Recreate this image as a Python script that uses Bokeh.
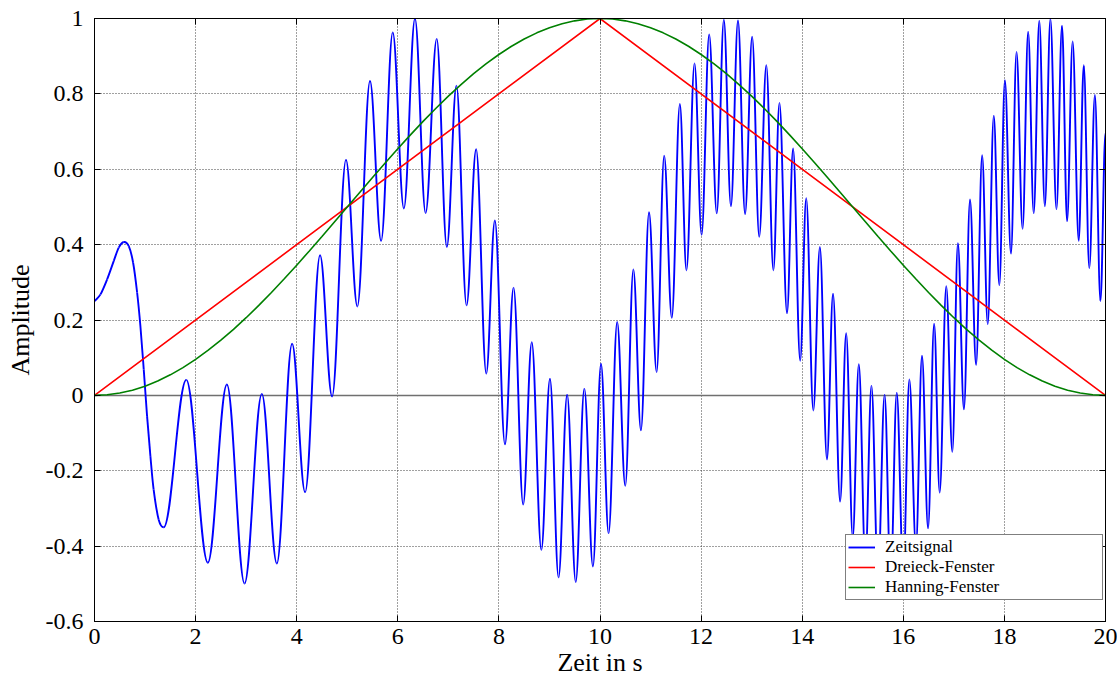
from bokeh.plotting import figure
from bokeh.models import (Range1d, FixedTicker, LinearAxis, Span, Legend,
                          LegendItem, CustomJSTickFormatter)
from bokeh.embed import file_html
from bokeh.resources import INLINE

# ---------------- data ----------------
x_ticks = [0, 2, 4, 6, 8, 10, 12, 14, 16, 18, 20]
y_ticks = [-0.6, -0.4, -0.2, 0.0, 0.2, 0.4, 0.6, 0.8, 1.0]
y_tick_labels = ["-0.6", "-0.4", "-0.2", "0", "0.2", "0.4", "0.6", "0.8", "1"]

# Dreieck-Fenster (triangle window)
dreieck_t = [0, 10, 20]
dreieck_v = [0.0, 1.0, 0.0]

# Hanning-Fenster, read every 0.25 s
hanning_t = [0, 0.25, 0.5, 0.75, 1, 1.25, 1.5, 1.75, 2, 2.25, 2.5, 2.75, 3,
             3.25, 3.5, 3.75, 4, 4.25, 4.5, 4.75, 5, 5.25, 5.5, 5.75, 6, 6.25,
             6.5, 6.75, 7, 7.25, 7.5, 7.75, 8, 8.25, 8.5, 8.75, 9, 9.25, 9.5,
             9.75, 10, 10.25, 10.5, 10.75, 11, 11.25, 11.5, 11.75, 12, 12.25,
             12.5, 12.75, 13, 13.25, 13.5, 13.75, 14, 14.25, 14.5, 14.75, 15,
             15.25, 15.5, 15.75, 16, 16.25, 16.5, 16.75, 17, 17.25, 17.5, 17.75,
             18, 18.25, 18.5, 18.75, 19, 19.25, 19.5, 19.75, 20]
hanning_v = [0.0, 0.0015, 0.0062, 0.0138, 0.0245, 0.0381, 0.0545, 0.0737,
             0.0955, 0.1198, 0.1464, 0.1753, 0.2061, 0.2388, 0.2730, 0.3087,
             0.3455, 0.3833, 0.4218, 0.4608, 0.5, 0.5392, 0.5782, 0.6167,
             0.6545, 0.6913, 0.7270, 0.7612, 0.7939, 0.8247, 0.8536, 0.8802,
             0.9045, 0.9263, 0.9455, 0.9619, 0.9755, 0.9862, 0.9938, 0.9985,
             1.0, 0.9985, 0.9938, 0.9862, 0.9755, 0.9619, 0.9455, 0.9263,
             0.9045, 0.8802, 0.8536, 0.8247, 0.7939, 0.7612, 0.7270, 0.6913,
             0.6545, 0.6167, 0.5782, 0.5392, 0.5, 0.4608, 0.4218, 0.3833,
             0.3455, 0.3087, 0.2730, 0.2388, 0.2061, 0.1753, 0.1464, 0.1198,
             0.0955, 0.0737, 0.0545, 0.0381, 0.0245, 0.0138, 0.0062, 0.0015,
             0.0]

# Zeitsignal, slow start read point by point
signal_start_t = [0.0, 0.118, 0.25, 0.382, 0.48, 0.579, 0.678, 0.764, 0.843,
                  0.908, 0.974, 1.04, 1.106, 1.17, 1.27, 1.369]
signal_start_v = [0.25, 0.268, 0.308, 0.357, 0.392, 0.407, 0.396, 0.352, 0.273,
                  0.184, 0.069, -0.055, -0.161, -0.25, -0.33, -0.35]

# Zeitsignal, successive peaks and troughs (time, value)
signal_ext_t = [1.369, 1.816, 2.242, 2.619, 2.968, 3.31, 3.607, 3.909, 4.166,
                4.462, 4.70, 4.975, 5.20, 5.45, 5.67, 5.90, 6.12, 6.34, 6.55,
                6.77, 6.97, 7.16, 7.36, 7.55, 7.75, 7.92, 8.12, 8.29, 8.48,
                8.65, 8.84, 9.01, 9.18, 9.35, 9.52, 9.69, 9.86, 10.02, 10.17,
                10.34, 10.50, 10.66, 10.81, 10.97, 11.12, 11.27, 11.42, 11.58,
                11.71, 11.87, 12.01, 12.16, 12.31, 12.45, 12.59, 12.73, 12.87,
                13.01, 13.15, 13.29, 13.43, 13.55, 13.70, 13.82, 13.96, 14.08,
                14.22, 14.35, 14.49, 14.61, 14.75, 14.87, 15.00, 15.12, 15.25,
                15.37, 15.50, 15.63, 15.75, 15.87, 16.00, 16.12, 16.25, 16.37,
                16.49, 16.61, 16.72, 16.85, 16.97, 17.08, 17.20, 17.32, 17.44,
                17.56, 17.67, 17.79, 17.90, 18.01, 18.13, 18.24, 18.36, 18.47,
                18.58, 18.69, 18.80, 18.91, 19.03, 19.14, 19.24, 19.35, 19.47,
                19.57, 19.68, 19.79, 19.90, 20.00]
signal_ext_v = [-0.35, 0.041, -0.444, 0.029, -0.499, 0.004, -0.446, 0.137,
                -0.257, 0.372, -0.003, 0.625, 0.236, 0.834, 0.41, 0.963, 0.496,
                1.0, 0.484, 0.946, 0.394, 0.822, 0.239, 0.653, 0.058, 0.464,
                -0.13, 0.286, -0.29, 0.141, -0.41, 0.044, -0.483, 0.002,
                -0.495, 0.018, -0.454, 0.084, -0.366, 0.195, -0.24, 0.334,
                -0.093, 0.486, 0.062, 0.636, 0.206, 0.773, 0.332, 0.881, 0.426,
                0.958, 0.483, 0.997, 0.502, 0.995, 0.481, 0.952, 0.421, 0.876,
                0.332, 0.776, 0.218, 0.655, 0.092, 0.523, -0.04, 0.394, -0.17,
                0.27, -0.282, 0.165, -0.377, 0.083, -0.44, 0.026, -0.48, 0.002,
                -0.49, 0.007, -0.47, 0.042, -0.40, 0.105, -0.353, 0.19, -0.258,
                0.29, -0.15, 0.404, -0.037, 0.52, 0.081, 0.637, 0.189, 0.742,
                0.292, 0.836, 0.376, 0.911, 0.442, 0.965, 0.483, 0.994, 0.502,
                0.999, 0.494, 0.981, 0.462, 0.939, 0.41, 0.876, 0.337, 0.797,
                0.25, 0.697]

# ---------------- smooth drawing helpers (bezier control points) ----------------
def smooth_through(ts, vs):
    """Cubic segments through read points (Catmull-Rom tangents); last point is a trough."""
    n = len(ts)
    tan = []
    for i in range(n):
        if i == 0:
            tan.append((ts[1] - ts[0], vs[1] - vs[0]))
        elif i == n - 1:
            tan.append((ts[i] - ts[i - 1], 0.0))
        else:
            tan.append(((ts[i + 1] - ts[i - 1]) / 2, (vs[i + 1] - vs[i - 1]) / 2))
    segs = {"x0": [], "y0": [], "x1": [], "y1": [], "cx0": [], "cy0": [], "cx1": [], "cy1": []}
    for i in range(n - 1):
        segs["x0"].append(ts[i]); segs["y0"].append(vs[i])
        segs["x1"].append(ts[i + 1]); segs["y1"].append(vs[i + 1])
        segs["cx0"].append(ts[i] + tan[i][0] / 3); segs["cy0"].append(vs[i] + tan[i][1] / 3)
        segs["cx1"].append(ts[i + 1] - tan[i + 1][0] / 3); segs["cy1"].append(vs[i + 1] - tan[i + 1][1] / 3)
    return segs


def smooth_extrema(ts, vs, k=0.3634):
    """Half-wave cubic segments between successive peaks and troughs."""
    segs = {"x0": ts[:-1], "y0": vs[:-1], "x1": ts[1:], "y1": vs[1:],
            "cx0": [a + k * (b - a) for a, b in zip(ts[:-1], ts[1:])], "cy0": vs[:-1],
            "cx1": [b - k * (b - a) for a, b in zip(ts[:-1], ts[1:])], "cy1": vs[1:]}
    return segs


s1 = smooth_through(signal_start_t, signal_start_v)
s2 = smooth_extrema(signal_ext_t, signal_ext_v)
segs = {key: list(s1[key]) + list(s2[key]) for key in s1}

# ---------------- styling ----------------
SERIF = "Liberation Serif"
BLUE, RED, GREEN = "#0000ff", "#ff0000", "#008000"

p = figure(width=1117, height=681, output_backend="svg", toolbar_location=None,
           x_range=Range1d(0, 20), y_range=Range1d(-0.6, 1.0),
           min_border_left=94, min_border_right=12, min_border_top=18,
           min_border_bottom=60)
p.background_fill_color = "white"
p.border_fill_color = "white"
p.outline_line_color = "black"
p.outline_line_width = 1

for ax in (p.xaxis[0], p.yaxis[0]):
    ax.major_tick_in = 6
    ax.major_tick_out = 0
    ax.minor_tick_line_color = None
    ax.axis_line_color = "black"
    ax.major_tick_line_color = "black"
    ax.major_label_text_font = SERIF
    ax.major_label_text_font_size = "24px"
    ax.major_label_text_color = "black"
    ax.axis_label_text_font = SERIF
    ax.axis_label_text_font_size = "26px"
    ax.axis_label_text_font_style = "normal"
    ax.axis_label_text_color = "black"
p.xaxis.ticker = FixedTicker(ticks=x_ticks)
p.yaxis.ticker = FixedTicker(ticks=y_ticks)
p.yaxis.major_label_overrides = {t: s for t, s in zip(y_ticks, y_tick_labels)}
p.xaxis.major_label_standoff = 7
p.yaxis.major_label_standoff = 11
p.xaxis.axis_label = "Zeit in s"
p.yaxis.axis_label = "Amplitude"
p.xaxis.axis_label_standoff = 1
p.yaxis.axis_label_standoff = 8

empty = CustomJSTickFormatter(code="return ''")
top_axis = LinearAxis(ticker=FixedTicker(ticks=x_ticks), formatter=empty,
                      major_tick_in=6, major_tick_out=0, minor_tick_line_color=None,
                      major_label_standoff=0, major_label_text_font_size="1px",
                      axis_line_color="black")
right_axis = LinearAxis(ticker=FixedTicker(ticks=y_ticks), formatter=empty,
                        major_tick_in=6, major_tick_out=0, minor_tick_line_color=None,
                        major_label_standoff=0, major_label_text_font_size="1px",
                        axis_line_color="black")
p.add_layout(top_axis, "above")
p.add_layout(right_axis, "right")

p.xgrid.ticker = FixedTicker(ticks=x_ticks)
p.ygrid.ticker = FixedTicker(ticks=y_ticks)
for g in (p.xgrid[0], p.ygrid[0]):
    g.grid_line_color = "#404040"
    g.grid_line_dash = "1 2"
    g.grid_line_width = 1

p.add_layout(Span(location=0, dimension="width", line_color="#707070",
                  line_width=1.5, level="underlay"))

# ---------------- glyphs ----------------
sig = p.bezier(x0=segs["x0"], y0=segs["y0"], x1=segs["x1"], y1=segs["y1"],
               cx0=segs["cx0"], cy0=segs["cy0"], cx1=segs["cx1"], cy1=segs["cy1"],
               line_color=BLUE, line_width=1.9)
tri = p.line(dreieck_t, dreieck_v, line_color=RED, line_width=1.6)
han = p.line(hanning_t, hanning_v, line_color=GREEN, line_width=1.6)

legend = Legend(items=[LegendItem(label="Zeitsignal", renderers=[sig]),
                       LegendItem(label="Dreieck-Fenster", renderers=[tri]),
                       LegendItem(label="Hanning-Fenster", renderers=[han])],
                location=(751, 21), orientation="vertical", margin=0,
                padding=2, spacing=0, glyph_width=27, glyph_height=16,
                label_height=16, label_width=215, label_standoff=10,
                label_text_font=SERIF, label_text_font_size="17px",
                label_text_color="black",
                border_line_color="black", border_line_width=1,
                background_fill_color="white", background_fill_alpha=1.0)
p.add_layout(legend)

open("out.html", "w").write(file_html(p, INLINE))
